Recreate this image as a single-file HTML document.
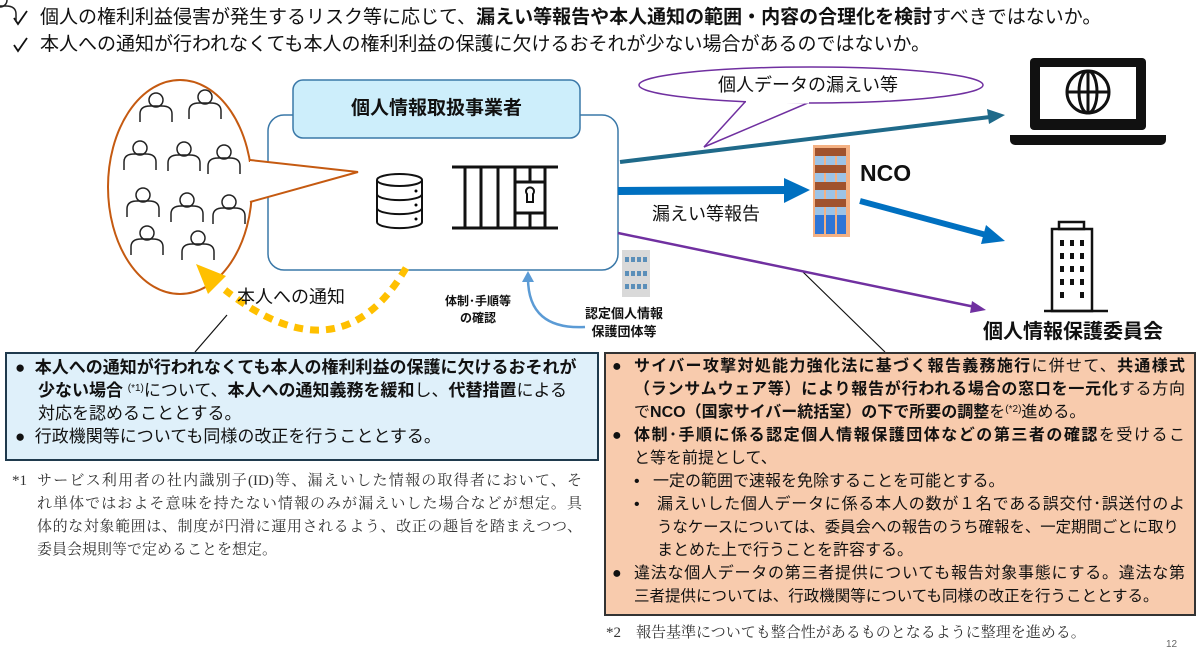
<!DOCTYPE html>
<html><head><meta charset="utf-8">
<style>
body{margin:0;width:1200px;height:650px;background:#fff;position:relative;overflow:hidden;font-family:"Liberation Sans","Noto Sans CJK JP",sans-serif;color:#111}
.t{position:absolute;white-space:nowrap;line-height:1}
b{font-weight:bold}
.box{position:absolute;box-sizing:border-box}
.ln{position:absolute;white-space:nowrap;font-size:17px;line-height:1}
.r{font-size:16px}
.j{text-align:justify;text-align-last:justify}
.sup{font-size:10px;vertical-align:5px}
.fn{font-family:"Liberation Serif","Noto Serif CJK JP",serif;color:#333;font-size:15px;position:absolute;white-space:nowrap;line-height:1}
</style></head><body>
<svg width="20" height="20" style="position:absolute;left:12px;top:8px"><path d="M2,10 L6,16 L15,3" fill="none" stroke="#111" stroke-width="1.8"/></svg>
<svg width="20" height="20" style="position:absolute;left:12px;top:35px"><path d="M2,10 L6,16 L15,3" fill="none" stroke="#111" stroke-width="1.8"/></svg>
<div class="t" style="left:40px;top:8px;font-size:19px">個人の権利利益侵害が発生するリスク等に応じて、<b>漏えい等報告や本人通知の範囲・内容の合理化を検討</b>すべきではないか。</div>
<div class="t" style="left:40px;top:35px;font-size:19px">本人への通知が行われなくても本人の権利利益の保護に欠けるおそれが少ない場合があるのではないか。</div>

<svg width="1200" height="650" style="position:absolute;left:0;top:0">
<ellipse cx="180" cy="187" rx="72" ry="107" fill="#fff" stroke="#c55a11" stroke-width="2"/>
<rect x="268" y="115" width="350" height="155" rx="16" fill="#fff" stroke="#3a78a8" stroke-width="1.5"/>
<rect x="293" y="80" width="287" height="58" rx="10" fill="#cdeefb" stroke="#3a78a8" stroke-width="1.5"/>
<path d="M250,160 L358,172 L250,202" fill="#fff" stroke="#c55a11" stroke-width="2"/>
<path d="M248,162 L248,200" stroke="#fff" stroke-width="4"/>
<g fill="none" stroke="#222" stroke-width="1.5">
<g id="p"><circle cx="0" cy="0" r="7"/><path d="M-16,22 v-8 q0,-8 10,-8 h12 q10,0 10,8 v8"/></g>
<use href="#p" x="156" y="100"/><use href="#p" x="205" y="97"/>
<use href="#p" x="140" y="148"/><use href="#p" x="184" y="149"/><use href="#p" x="224" y="152"/>
<use href="#p" x="143" y="195"/><use href="#p" x="187" y="200"/><use href="#p" x="229" y="202"/>
<use href="#p" x="147" y="233"/><use href="#p" x="198" y="238"/>
</g>
<g fill="#fff" stroke="#111" stroke-width="2">
<path d="M377,180 v42 a22,6 0 0 0 45,0 v-42"/>
<ellipse cx="399.5" cy="180" rx="22.5" ry="6"/>
<path d="M377,194 a22,6 0 0 0 45,0 M377,208 a22,6 0 0 0 45,0" fill="none"/>
</g>
<circle cx="416" cy="191" r="1.5"/><circle cx="416" cy="205" r="1.5"/><circle cx="416" cy="219" r="1.5"/>
<g stroke="#111" stroke-width="3" fill="none">
<path d="M452,167 H558 M452,228 H558 M465,167V228 M481,167V228 M498,167V228 M515,167V228 M545,167V228 M515,182H545 M515,213H545 M530,213V228 M530,167V182"/>
</g>
<path d="M527,194 a4,4 0 1 1 6,0 v8 h-6z" fill="none" stroke="#111" stroke-width="2"/>
<path d="M406,268 Q340,380 225,290" fill="none" stroke="#ffc000" stroke-width="7" stroke-dasharray="9,7"/>
<path d="M196,264 L226,276 L208,294 z" fill="#ffc000"/>
<path d="M227,315 L195,352" stroke="#111" stroke-width="1.2"/>
<path d="M803,272 L885,352" stroke="#111" stroke-width="1.2"/>
<path d="M585,327 Q528,330 528,278" fill="none" stroke="#5b9bd5" stroke-width="2.5"/>
<path d="M522,282 L528,271 L534,282z" fill="#5b9bd5"/>
<rect x="622" y="250" width="28" height="47" fill="#d9d9d9"/>
<g fill="#5b8fb9"><rect x="625" y="257" width="4" height="5"/><rect x="631" y="257" width="4" height="5"/><rect x="637" y="257" width="4" height="5"/><rect x="643" y="257" width="4" height="5"/>
<rect x="625" y="271" width="4" height="5"/><rect x="631" y="271" width="4" height="5"/><rect x="637" y="271" width="4" height="5"/><rect x="643" y="271" width="4" height="5"/>
<rect x="625" y="284" width="4" height="5"/><rect x="631" y="284" width="4" height="5"/><rect x="637" y="284" width="4" height="5"/><rect x="643" y="284" width="4" height="5"/></g>
<path d="M620,162 L990,117" stroke="#1f6a8a" stroke-width="4"/>
<path d="M987,109 L1005,115 L989,124z" fill="#1f6a8a"/>
<path d="M745,102 L704,147 L810,102" fill="#fff" stroke="#7030a0" stroke-width="1.5"/>
<ellipse cx="811" cy="85" rx="172" ry="18" fill="#fff" stroke="#7030a0" stroke-width="1.5"/>
<path d="M746,102 L809,102" stroke="#fff" stroke-width="3"/>
<path d="M618,191 L790,190" stroke="#0070c0" stroke-width="8"/>
<path d="M784,178 L810,190 L784,203z" fill="#0070c0"/>
<rect x="813" y="145" width="37" height="92" fill="#f4b183"/>
<g>
<rect x="815" y="148" width="9" height="86" fill="#9dc3e6"/><rect x="826" y="148" width="9" height="86" fill="#9dc3e6"/><rect x="837" y="148" width="9" height="86" fill="#9dc3e6"/>
<g fill="#a0522d"><rect x="815" y="148" width="31" height="8"/><rect x="815" y="165" width="31" height="8"/><rect x="815" y="182" width="31" height="8"/><rect x="815" y="199" width="31" height="8"/></g>
<g fill="#2e75d6"><rect x="815" y="215" width="9" height="19"/><rect x="826" y="215" width="9" height="19"/><rect x="837" y="215" width="9" height="19"/></g>
</g>
<path d="M860,201 L990,236" stroke="#0070c0" stroke-width="6"/>
<path d="M986,225 L1005,241 L981,244z" fill="#0070c0"/>
<path d="M618,233 L975,307" stroke="#7030a0" stroke-width="2.5"/>
<path d="M972,301 L986,310 L970,313z" fill="#7030a0"/>
<rect x="1030" y="58" width="116" height="72" rx="4" fill="#111"/>
<rect x="1040" y="67" width="96" height="52" fill="#fff"/>
<path d="M1010,135 H1166 v5 a5,5 0 0 1 -5,5 H1015 a5,5 0 0 1 -5,-5z" fill="#111"/>
<g fill="none" stroke="#111" stroke-width="3"><circle cx="1088" cy="92" r="21"/><ellipse cx="1088" cy="92" rx="9" ry="21"/><path d="M1067,92H1109M1088,71V113"/></g>
<g fill="none" stroke="#111" stroke-width="2.5"><rect x="1059" y="222" width="25" height="7"/><rect x="1052" y="229" width="40" height="82"/><path d="M1044,311H1108"/></g>
<g fill="#111">
<rect x="1060" y="240" width="4" height="6"/><rect x="1070" y="240" width="4" height="6"/><rect x="1080" y="240" width="4" height="6"/>
<rect x="1060" y="253" width="4" height="6"/><rect x="1070" y="253" width="4" height="6"/><rect x="1080" y="253" width="4" height="6"/>
<rect x="1060" y="266" width="4" height="6"/><rect x="1070" y="266" width="4" height="6"/><rect x="1080" y="266" width="4" height="6"/>
<rect x="1060" y="279" width="4" height="6"/><rect x="1070" y="279" width="4" height="6"/><rect x="1080" y="279" width="4" height="6"/>
<rect x="1060" y="292" width="4" height="6"/><rect x="1080" y="292" width="4" height="6"/>
</g>
</svg>

<div class="t" style="left:293px;width:287px;text-align:center;top:99px;font-size:19px;font-weight:bold">個人情報取扱事業者</div>
<div class="t" style="left:237px;top:288px;font-size:18px">本人への通知</div>
<div class="t" style="left:445px;top:293px;font-size:12px;font-weight:bold;text-align:center;line-height:17px">体制･手順等<br>の確認</div>
<div class="t" style="left:585px;top:305px;font-size:13px;font-weight:bold;text-align:center;line-height:18px">認定個人情報<br>保護団体等</div>
<div class="t" style="left:718px;top:76px;font-size:18px">個人データの漏えい等</div>
<div class="t" style="left:652px;top:205px;font-size:18px">漏えい等報告</div>
<div class="t" style="left:860px;top:162px;font-size:23px;font-weight:bold">NCO</div>
<div class="t" style="left:983px;top:322px;font-size:20px;font-weight:bold">個人情報保護委員会</div>

<div class="box" style="left:5px;top:352px;width:594px;height:109px;background:#dff0fa;border:2px solid #1f3a4d"></div>
<div class="ln" style="left:15px;top:359px">●&nbsp; <b>本人への通知が行われなくても本人の権利利益の保護に欠けるおそれが</b></div>
<div class="ln" style="left:38px;top:382px"><b>少ない場合</b> <span class="sup">(*1)</span>について、<b>本人への通知義務を緩和</b>し、<b>代替措置</b>による</div>
<div class="ln" style="left:38px;top:405px">対応を認めることとする。</div>
<div class="ln" style="left:15px;top:428px">●&nbsp; 行政機関等についても同様の改正を行うこととする。</div>

<div class="fn" style="left:12px;top:474px">*1</div>
<div class="fn j" style="left:37px;top:474px;width:545px">サービス利用者の社内識別子(ID)等、漏えいした情報の取得者において、そ</div>
<div class="fn j" style="left:37px;top:497px;width:545px">れ単体ではおよそ意味を持たない情報のみが漏えいした場合などが想定。具</div>
<div class="fn j" style="left:37px;top:520px;width:545px">体的な対象範囲は、制度が円滑に運用されるよう、改正の趣旨を踏まえつつ、</div>
<div class="fn" style="left:37px;top:543px">委員会規則等で定めることを想定。</div>

<div class="box" style="left:604px;top:352px;width:592px;height:264px;background:#f8cbad;border:2px solid #333"></div>
<div class="ln r" style="left:612px;top:359px">●</div>
<div class="ln r j" style="left:634px;top:359px;width:551px"><b>サイバー攻撃対処能力強化法に基づく報告義務施行</b>に併せて、<b>共通様式</b></div>
<div class="ln r j" style="left:634px;top:382px;width:551px"><b>（ランサムウェア等）により報告が行われる場合の窓口を一元化</b>する方向</div>
<div class="ln r" style="left:634px;top:405px">で<b>NCO（国家サイバー統括室）の下で所要の調整</b>を<span class="sup">(*2)</span>進める。</div>
<div class="ln r" style="left:612px;top:428px">●</div>
<div class="ln r j" style="left:634px;top:428px;width:551px"><b>体制･手順に係る認定個人情報保護団体などの第三者の確認</b>を受けるこ</div>
<div class="ln r" style="left:634px;top:451px">と等を前提として、</div>
<div class="ln r" style="left:634px;top:474px">•&nbsp;&nbsp; 一定の範囲で速報を免除することを可能とする。</div>
<div class="ln r" style="left:634px;top:497px">•</div>
<div class="ln r j" style="left:657px;top:497px;width:528px">漏えいした個人データに係る本人の数が１名である誤交付･誤送付のよ</div>
<div class="ln" style="left:657px;top:520px;font-size:15.4px">うなケースについては、委員会への報告のうち確報を、一定期間ごとに取り</div>
<div class="ln r" style="left:657px;top:543px">まとめた上で行うことを許容する。</div>
<div class="ln r" style="left:612px;top:566px">●</div>
<div class="ln r j" style="left:634px;top:566px;width:551px">違法な個人データの第三者提供についても報告対象事態にする。違法な第</div>
<div class="ln" style="left:634px;top:589px;font-size:15.5px">三者提供については、行政機関等についても同様の改正を行うこととする。</div>

<div class="fn" style="left:606px;top:626px">*2　報告基準についても整合性があるものとなるように整理を進める。</div>
<div class="t" style="left:1166px;top:640px;font-size:10px;color:#666">12</div>
</body></html>
